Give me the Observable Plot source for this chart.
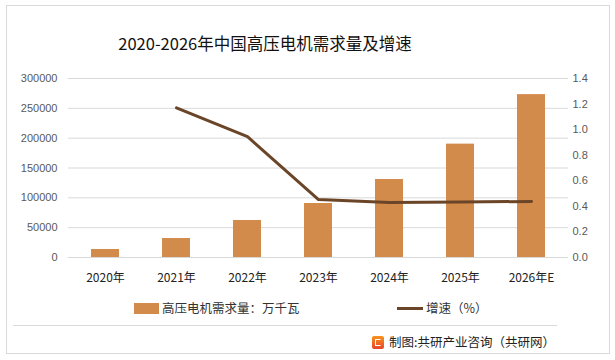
<!DOCTYPE html>
<html><head><meta charset="utf-8">
<script src="https://cdn.jsdelivr.net/npm/d3@7"></script>
<script src="https://cdn.jsdelivr.net/npm/@observablehq/plot@0.6"></script>
<style>
html,body{margin:0;padding:0;background:#fff;}
#wrap{position:relative;width:615px;height:360px;overflow:hidden;font-family:"Noto Sans CJK SC","Noto Sans",sans-serif;}
#frame{position:absolute;left:6px;top:5px;width:604px;height:349px;border:1px solid #d9d9d9;box-sizing:border-box;}
#title{position:absolute;left:0;width:530px;top:31px;text-align:center;font-size:16.5px;color:#111;line-height:24px;}
#chart{position:absolute;left:0;top:0;}
#legend{position:absolute;top:299px;left:0;width:615px;height:18px;font-size:12.5px;color:#333;}
.lg{position:absolute;top:0;line-height:18px;white-space:nowrap;}
.sw{display:inline-block;vertical-align:middle;}
#sep{position:absolute;left:13px;top:325px;width:544px;height:1px;background:#d9d9d9;}
#footer{position:absolute;top:333px;left:372px;font-size:12.5px;color:#222;line-height:18px;white-space:nowrap;}
#logo{display:inline-block;width:12px;height:13px;background:linear-gradient(#f7931e,#e8452b);border-radius:2px;vertical-align:-2px;margin-right:5px;position:relative;}
#logo:after{content:"";position:absolute;left:3px;top:3px;width:6px;height:7px;border:1.5px solid #fff;border-right-color:transparent;box-sizing:border-box;}
</style>
</head><body>
<div id="wrap">
  <div id="frame"></div>
  <div id="title">2020-2026年中国高压电机需求量及增速</div>
  <div id="chart"></div>
  <div id="legend">
    <div class="lg" style="left:134px"><span class="sw" style="width:25px;height:11px;background:#d38b4c;margin-right:3px;vertical-align:-1px"></span>高压电机需求量：万千瓦</div>
    <div class="lg" style="left:397px"><span class="sw" style="width:26px;height:3px;background:#6b4528;margin-right:3px;vertical-align:3px"></span>增速（%）</div>
  </div>
  <div id="sep"></div>
  <div id="footer"><span id="logo"></span>制图:共研产业咨询（共研网）</div>
</div>
<script>
const years = ["2020年","2021年","2022年","2023年","2024年","2025年","2026年E"];
const demand = [13400, 31800, 62000, 90500, 130700, 190000, 273000];
const growthYears = ["2021年","2022年","2023年","2024年","2025年","2026年E"];
const growth = [1.17, 0.945, 0.453, 0.43, 0.435, 0.438];
const leftTicks = [0, 50000, 100000, 150000, 200000, 250000, 300000];
const rightTicks = [0, 0.2, 0.4, 0.6, 0.8, 1.0, 1.2, 1.4];

const leftMax = 300000, rightMax = 1.4;
const toLeft = v => v * leftMax / rightMax;

const bars = years.map((y, i) => ({year: y, value: demand[i]}));
const line = growthYears.map((y, i) => ({year: y, g: growth[i]}));

const chart = Plot.plot({
  width: 615,
  height: 300,
  marginLeft: 68,
  marginRight: 47,
  marginTop: 78,
  marginBottom: 43,
  style: {fontFamily: "'Liberation Sans','Noto Sans CJK SC',sans-serif", background: "transparent"},
  x: {domain: years, paddingInner: 0.6, paddingOuter: 0.3, label: null},
  y: {domain: [0, leftMax], label: null},
  marks: [
    Plot.gridY(leftTicks, {stroke: "#d9d9d9", strokeOpacity: 1, strokeWidth: 1}),
    Plot.barY(bars, {x: "year", y: "value", fill: "#d38b4c"}),
    Plot.line(line, {x: "year", y: d => toLeft(d.g), stroke: "#6b4528", strokeWidth: 3, strokeLinejoin: "round"}),
    Plot.axisY({anchor: "left", ticks: leftTicks, tickSize: 0, tickPadding: 11, fontSize: 11, color: "#595959", label: null, tickFormat: d => String(d)}),
    Plot.axisY({anchor: "right", ticks: rightTicks.map(toLeft), tickSize: 0, tickPadding: 4, fontSize: 11, color: "#595959", label: null,
      tickFormat: d => (d * rightMax / leftMax).toFixed(1)}),
    Plot.axisX({tickSize: 0, tickPadding: 16, fontSize: 12, color: "#222", fontFamily: "'Noto Sans CJK SC',sans-serif", label: null})
  ]
});
document.getElementById("chart").appendChild(chart);
</script>
</body></html>
